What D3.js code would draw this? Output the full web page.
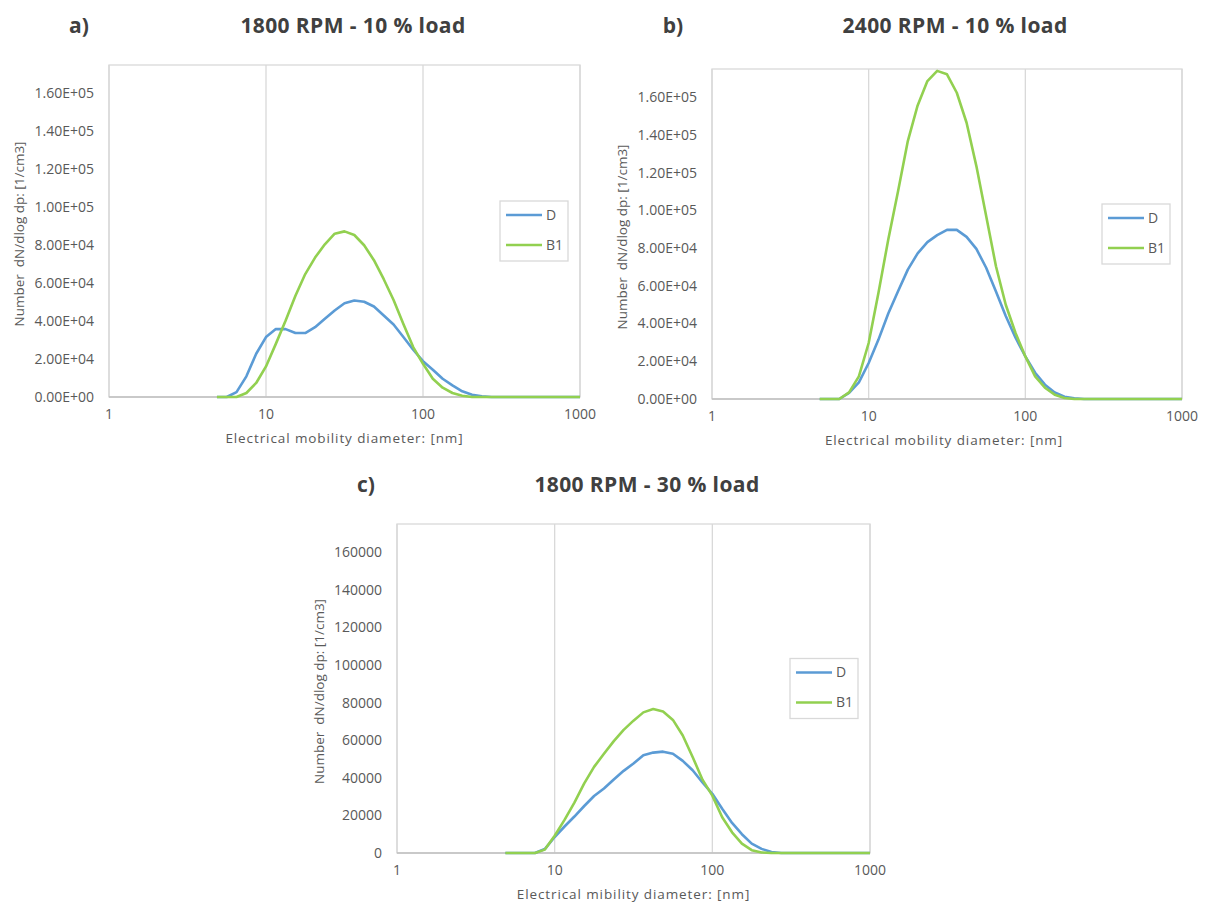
<!DOCTYPE html>
<html lang="en">
<head>
<meta charset="utf-8">
<title>Particle size distributions</title>
<script src="https://cdn.jsdelivr.net/npm/d3@7"></script>
<style>
  body { margin: 0; background: #fff; }
  text { font-family: "Open Sans", "Liberation Sans", Arial, sans-serif; }
</style>
</head>
<body>
<svg width="1207" height="905"></svg>
<script>
// electrical mobility diameter bins [nm]
var diameters = [4.87, 5.62, 6.49, 7.50, 8.66, 10.0, 11.55, 13.34, 15.40, 17.78, 20.54, 23.71, 27.38, 31.62, 36.52,
  42.17, 48.70, 56.23, 64.94, 74.99, 86.60, 100.0, 115.5, 133.4, 154.0, 177.8, 205.4, 237.1, 273.8, 316.2, 365.2,
  421.7, 487.0, 562.3, 649.4, 749.9, 866.0, 1000];

// dN/dlog dp [1/cm3]
var dA  = [0, 0, 2600, 10900, 22800, 31600, 35800, 35800, 33700, 33700, 36800, 41200, 45600, 49400, 50900, 50200, 47700, 43000, 38200, 31600, 24900, 18900, 14400, 9600, 6100, 3000, 1200, 350, 0, 0, 0, 0, 0, 0, 0, 0, 0, 0];
var b1A = [0, 0, 0, 2100, 7400, 16100, 28000, 40300, 53400, 64800, 73500, 80500, 86100, 87300, 85400, 80000, 72100, 62100, 51100, 38500, 26300, 17500, 9600, 4900, 2100, 700, 0, 0, 0, 0, 0, 0, 0, 0, 0, 0, 0, 0];
var dB  = [0, 0, 0, 3200, 8800, 19100, 31500, 45300, 57100, 68600, 77200, 83200, 86900, 89700, 89700, 86000, 79600, 69600, 57000, 44000, 32500, 22600, 13900, 7600, 3500, 1200, 400, 0, 0, 0, 0, 0, 0, 0, 0, 0, 0, 0];
var b1B = [0, 0, 0, 3500, 12000, 29700, 56300, 84600, 110200, 136800, 155700, 168600, 174000, 172200, 162400, 146500, 123500, 97000, 70400, 50000, 35000, 22600, 12000, 6000, 2300, 500, 0, 0, 0, 0, 0, 0, 0, 0, 0, 0, 0, 0];
var dC  = [0, 0, 0, 0, 2100, 8500, 14100, 19400, 25000, 30300, 34300, 39100, 43700, 47600, 52000, 53400, 53900, 52800, 49000, 44000, 37500, 31500, 23500, 16000, 10000, 5000, 2200, 500, 0, 0, 0, 0, 0, 0, 0, 0, 0, 0];
var b1C = [0, 0, 0, 0, 1800, 9200, 17600, 26800, 37000, 45800, 52800, 59500, 65500, 70400, 74800, 76600, 75300, 70800, 62500, 51100, 39000, 30500, 19000, 11000, 5000, 1500, 300, 0, 0, 0, 0, 0, 0, 0, 0, 0, 0, 0];

var seriesNames = ['D', 'B1'];
var seriesColors = ['#5B9BD5', '#92D050'];
var xTicks = [1, 10, 100, 1000];
var yTicks = [0, 20000, 40000, 60000, 80000, 100000, 120000, 140000, 160000];
var yMax = 175000;

var svg = d3.select('svg');

function sciFormat(v) {
  var s = v.toExponential(2).split('e');
  var exp = +s[1];
  return s[0] + 'E' + (exp < 0 ? '-' : '+') + (Math.abs(exp) < 10 ? '0' : '') + Math.abs(exp);
}

function drawPanel(p) {
  var x = d3.scaleLog().domain([1, 1000]).range([p.left, p.right]);
  var y = d3.scaleLinear().domain([0, yMax]).range([p.bottom, p.top]);
  var g = svg.append('g');

  // plot area border
  g.append('rect')
    .attr('x', p.left).attr('y', p.top)
    .attr('width', p.right - p.left).attr('height', p.bottom - p.top)
    .attr('fill', 'none').attr('stroke', '#d9d9d9').attr('stroke-width', 1.3);

  // vertical gridlines
  g.selectAll('line.grid')
    .data(xTicks)
    .enter()
    .append('line')
    .attr('class', 'grid')
    .attr('x1', d => x(d)).attr('x2', d => x(d))
    .attr('y1', p.top).attr('y2', p.bottom)
    .attr('stroke', '#d9d9d9').attr('stroke-width', 1.3);

  // x axis line
  g.append('line')
    .attr('x1', p.left).attr('x2', p.right)
    .attr('y1', p.bottom).attr('y2', p.bottom)
    .attr('stroke', '#bfbfbf').attr('stroke-width', 1.3);

  // tick labels
  g.selectAll('text.xt')
    .data(xTicks)
    .enter()
    .append('text')
    .attr('class', 'xt')
    .attr('x', d => x(d)).attr('y', p.bottom + 22)
    .attr('text-anchor', 'middle')
    .attr('font-size', 14).attr('fill', '#595959')
    .text(d => d);

  g.selectAll('text.yt')
    .data(yTicks)
    .enter()
    .append('text')
    .attr('class', 'yt')
    .attr('x', p.left - 15).attr('y', d => y(d))
    .attr('dy', '0.35em')
    .attr('text-anchor', 'end')
    .attr('font-size', 14).attr('fill', '#595959')
    .text(d => p.sci ? sciFormat(d) : d);

  // series
  var line = d3.line()
    .x((d, i) => x(diameters[i]))
    .y(d => y(d));

  p.series.forEach((s, k) => {
    g.append('path')
      .datum(s)
      .attr('d', line)
      .attr('fill', 'none')
      .attr('stroke', seriesColors[k])
      .attr('stroke-width', 2.6)
      .attr('stroke-linejoin', 'round');
  });

  // titles
  g.append('text')
    .attr('x', p.tagX).attr('y', p.titleY)
    .attr('text-anchor', 'middle')
    .attr('font-size', 21).attr('font-weight', 'bold').attr('fill', '#404040')
    .text(p.tag);
  g.append('text')
    .attr('x', p.titleX).attr('y', p.titleY)
    .attr('text-anchor', 'middle')
    .attr('font-size', 21).attr('font-weight', 'bold').attr('fill', '#404040')
    .attr('letter-spacing', 0.4)
    .text(p.title);

  // axis titles
  g.append('text')
    .attr('x', (p.left + p.right) / 2 + p.xLabelShift).attr('y', p.bottom + 46)
    .attr('text-anchor', 'middle')
    .attr('font-size', 13.5).attr('fill', '#595959')
    .attr('letter-spacing', 0.9)
    .text(p.xLabel);
  g.append('text')
    .attr('transform', 'translate(' + p.yLabelX + ',' + ((p.top + p.bottom) / 2 + 3) + ') rotate(-90)')
    .attr('text-anchor', 'middle')
    .attr('dy', '0.35em')
    .attr('font-size', 13.5).attr('fill', '#595959')
    .style('white-space', 'pre')
    .text('Number  dN/dlog dp: [1/cm3]');

  // legend
  var lw = 68, lh = 60;
  var lx = p.right - 12 - lw, ly = (p.top + p.bottom) / 2 - lh / 2;
  var leg = g.append('g').attr('transform', 'translate(' + lx + ',' + ly + ')');
  leg.append('rect')
    .attr('width', lw).attr('height', lh)
    .attr('fill', '#fff').attr('stroke', '#d9d9d9').attr('stroke-width', 1.3);
  seriesNames.forEach((n, k) => {
    var yy = 14 + k * 30;
    leg.append('line')
      .attr('x1', 6).attr('x2', 42).attr('y1', yy).attr('y2', yy)
      .attr('stroke', seriesColors[k]).attr('stroke-width', 2.6);
    leg.append('text')
      .attr('x', 46).attr('y', yy).attr('dy', '0.35em')
      .attr('font-size', 14).attr('fill', '#595959')
      .text(n);
  });
}

drawPanel({ left: 109, right: 580, top: 65, bottom: 397, sci: true, series: [dA, b1A],
  tag: 'a)', tagX: 79, title: '1800 RPM - 10 % load', titleX: 353, titleY: 33,
  xLabel: 'Electrical mobility diameter: [nm]', xLabelShift: 0, yLabelX: 19 });
drawPanel({ left: 712, right: 1182, top: 69, bottom: 399, sci: true, series: [dB, b1B],
  tag: 'b)', tagX: 673, title: '2400 RPM - 10 % load', titleX: 955, titleY: 33,
  xLabel: 'Electrical mobility diameter: [nm]', xLabelShift: -3, yLabelX: 622 });
drawPanel({ left: 397, right: 870, top: 524, bottom: 853, sci: false, series: [dC, b1C],
  tag: 'c)', tagX: 366, title: '1800 RPM - 30 % load', titleX: 647, titleY: 492,
  xLabel: 'Electrical mibility diameter: [nm]', xLabelShift: 0, yLabelX: 319 });
</script>
</body>
</html>
